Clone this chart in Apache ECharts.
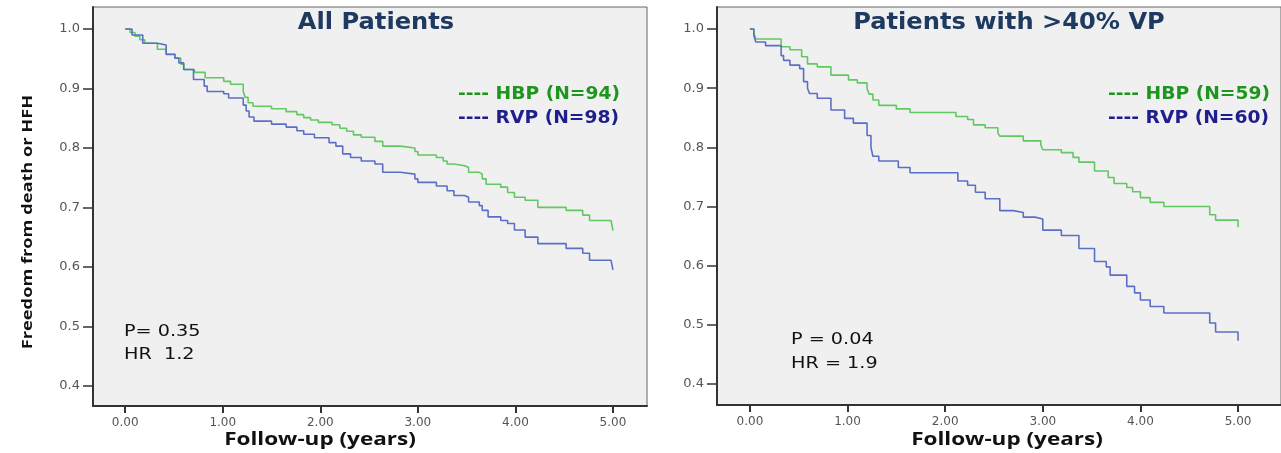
<!DOCTYPE html>
<html>
<head>
<meta charset="utf-8">
<script src="https://cdn.jsdelivr.net/npm/echarts@6/dist/echarts.min.js"></script>
<style>
  html, body { margin: 0; padding: 0; background: #fff; }
  #chart { width: 1281px; height: 453px; }
</style>
</head>
<body>
<div id="chart"></div>
<script>
// tick labels
const xTicks = [0, 1, 2, 3, 4, 5]
const yTicks = [0.4, 0.5, 0.6, 0.7, 0.8, 0.9, 1.0]

// All patients - HBP (N=94)
const allHbpT = [0, 0.05, 0.10, 0.15, 0.20, 0.33, 0.42, 0.51, 0.57, 0.60, 0.71, 0.82, 1.01, 1.08, 1.21, 1.23, 1.26, 1.31,
  1.50, 1.65, 1.76, 1.83, 1.90, 1.98, 2.12, 2.20, 2.27, 2.34, 2.42, 2.56, 2.64, 2.82, 2.97, 3.00, 3.19, 3.26, 3.30,
  3.37, 3.48, 3.52, 3.63, 3.66, 3.70, 3.85, 3.92, 3.99, 4.10, 4.23, 4.52, 4.69, 4.76, 4.98, 5.00]
const allHbpS = [1.0, 0.994, 0.988, 0.982, 0.976, 0.966, 0.958, 0.951, 0.941, 0.932, 0.927, 0.918, 0.912, 0.907, 0.895, 0.885, 0.876, 0.870,
  0.866, 0.861, 0.856, 0.851, 0.847, 0.843, 0.839, 0.833, 0.828, 0.822, 0.818, 0.811, 0.803, 0.800, 0.794, 0.788, 0.784, 0.778, 0.773,
  0.770, 0.767, 0.759, 0.756, 0.748, 0.739, 0.734, 0.725, 0.717, 0.712, 0.700, 0.695, 0.687, 0.678, 0.675, 0.661]

// All patients - RVP (N=98)
const allRvpT = [0, 0.07, 0.18, 0.33, 0.42, 0.51, 0.55, 0.60, 0.70, 0.81, 0.84, 1.01, 1.06, 1.21, 1.24, 1.27, 1.32,
  1.50, 1.65, 1.76, 1.83, 1.94, 2.09, 2.16, 2.23, 2.31, 2.42, 2.56, 2.64, 2.82, 2.97, 3.00, 3.19, 3.30, 3.37, 3.48,
  3.52, 3.63, 3.66, 3.72, 3.85, 3.92, 3.99, 4.10, 4.23, 4.52, 4.69, 4.76, 4.98, 5.00]
const allRvpS = [1.0, 0.990, 0.976, 0.973, 0.957, 0.951, 0.943, 0.932, 0.915, 0.904, 0.895, 0.891, 0.884, 0.872, 0.862, 0.852, 0.845,
  0.840, 0.835, 0.829, 0.823, 0.817, 0.809, 0.803, 0.790, 0.784, 0.778, 0.773, 0.759, 0.756, 0.748, 0.742, 0.736, 0.728, 0.720, 0.717,
  0.709, 0.703, 0.695, 0.684, 0.678, 0.673, 0.662, 0.650, 0.639, 0.631, 0.623, 0.611, 0.608, 0.595]

// >40% VP - HBP (N=59)
const vpHbpT = [0, 0.04, 0.06, 0.32, 0.41, 0.53, 0.59, 0.69, 0.83, 1.01, 1.10, 1.20, 1.22, 1.26, 1.32, 1.50, 1.64,
  2.11, 2.23, 2.29, 2.41, 2.54, 2.56, 2.80, 2.98, 3.00, 3.19, 3.31, 3.37, 3.53, 3.67, 3.73, 3.86, 3.92, 4.00, 4.10,
  4.24, 4.71, 4.77, 5.00]
const vpHbpS = [1.0, 0.994, 0.983, 0.970, 0.965, 0.953, 0.941, 0.936, 0.922, 0.914, 0.909, 0.900, 0.890, 0.880, 0.871, 0.865, 0.859,
  0.852, 0.847, 0.838, 0.833, 0.824, 0.819, 0.811, 0.804, 0.796, 0.791, 0.783, 0.775, 0.760, 0.749, 0.739, 0.732, 0.725, 0.715, 0.707,
  0.700, 0.686, 0.677, 0.665]

// >40% VP - RVP (N=60)
const vpRvpT = [0, 0.04, 0.06, 0.16, 0.32, 0.345, 0.41, 0.51, 0.55, 0.59, 0.61, 0.69, 0.83, 0.97, 1.06, 1.20, 1.24, 1.26,
  1.32, 1.52, 1.64, 2.13, 2.23, 2.31, 2.41, 2.56, 2.70, 2.80, 2.92, 3.00, 3.19, 3.37, 3.53, 3.65, 3.69, 3.86, 3.94,
  4.00, 4.10, 4.24, 4.71, 4.77, 5.00]
const vpRvpS = [1.0, 0.989, 0.978, 0.972, 0.955, 0.947, 0.939, 0.933, 0.911, 0.900, 0.891, 0.883, 0.863, 0.849, 0.841, 0.820, 0.800, 0.785,
  0.777, 0.766, 0.757, 0.743, 0.736, 0.724, 0.713, 0.693, 0.690, 0.682, 0.679, 0.660, 0.651, 0.629, 0.607, 0.598, 0.584, 0.565, 0.554,
  0.542, 0.531, 0.520, 0.503, 0.488, 0.473]

const green = '#62c862'
const blue = '#5b6fc6'

const zip = (t, s) => t.map((v, i) => [v, s[i]])

const makeX = (gridIndex, min, max) => ({
  type: 'value',
  gridIndex,
  min,
  max,
  splitLine: { show: false },
  axisLine: { show: true, onZero: false, lineStyle: { color: '#333', width: 2 } },
  axisTick: { show: true, customValues: xTicks, length: 7, lineStyle: { color: '#333', width: 2 } },
  axisLabel: {
    customValues: xTicks,
    margin: 11,
    color: '#555',
    fontSize: 12,
    fontFamily: 'DejaVu Sans',
    formatter: v => v.toFixed(2)
  }
})

const makeY = (gridIndex, min, max) => ({
  type: 'value',
  gridIndex,
  min,
  max,
  splitLine: { show: false },
  axisLine: { show: true, onZero: false, lineStyle: { color: '#333', width: 2 } },
  axisTick: { show: true, customValues: yTicks, length: 10, lineStyle: { color: '#333', width: 1.5 } },
  axisLabel: {
    customValues: yTicks,
    margin: 13,
    color: '#555',
    fontSize: 13,
    fontFamily: 'DejaVu Sans',
    formatter: v => v.toFixed(1)
  }
})

const makeLine = (name, data, color, idx) => ({
  name,
  type: 'line',
  step: 'end',
  xAxisIndex: idx,
  yAxisIndex: idx,
  data,
  symbol: 'none',
  lineStyle: { color, width: 1.6 },
  itemStyle: { color },
  animation: false
})

// the reference text is a bit stretched sideways, hence sx
const txt = (x, y, text, font, fill, align, sx, rotation) => ({
  type: 'text',
  x,
  y,
  scaleX: sx || 1,
  rotation: rotation || 0,
  style: {
    text,
    font,
    fill,
    textAlign: align || 'left',
    textVerticalAlign: 'middle'
  }
})

const chart = echarts.init(document.getElementById('chart'))

chart.setOption({
  backgroundColor: '#fff',
  animation: false,
  grid: [
    { left: 93, top: 7, width: 554, height: 399, show: true, backgroundColor: '#f0f0f0', borderColor: '#666', borderWidth: 1 },
    { left: 717, top: 7, width: 566, height: 398, show: true, backgroundColor: '#f0f0f0', borderColor: '#666', borderWidth: 1 }
  ],
  xAxis: [makeX(0, -0.33, 5.349), makeX(1, -0.337, 5.44)],
  yAxis: [makeY(0, 0.366, 1.037), makeY(1, 0.3645, 1.0372)],
  series: [
    makeLine('HBP (N=94)', zip(allHbpT, allHbpS), green, 0),
    makeLine('RVP (N=98)', zip(allRvpT, allRvpS), blue, 0),
    makeLine('HBP (N=59)', zip(vpHbpT, vpHbpS), green, 1),
    makeLine('RVP (N=60)', zip(vpRvpT, vpRvpS), blue, 1)
  ],
  graphic: [
    txt(376, 23, 'All Patients', 'bold 23px "DejaVu Sans"', '#1f3a60', 'center', 1.05),
    txt(1009, 23, 'Patients with >40% VP', 'bold 23px "DejaVu Sans"', '#1f3a60', 'center', 1.05),
    txt(458, 95, '---- HBP (N=94)', 'bold 17px "DejaVu Sans"', '#1e961e', 'left', 1.1),
    txt(458, 119, '---- RVP (N=98)', 'bold 17px "DejaVu Sans"', '#1e1e8c', 'left', 1.1),
    txt(1108, 95, '---- HBP (N=59)', 'bold 17px "DejaVu Sans"', '#1e961e', 'left', 1.1),
    txt(1108, 119, '---- RVP (N=60)', 'bold 17px "DejaVu Sans"', '#1e1e8c', 'left', 1.1),
    txt(124, 332, 'P= 0.35', '16px "DejaVu Sans"', '#111', 'left', 1.2),
    txt(124, 355, 'HR  1.2', '16px "DejaVu Sans"', '#111', 'left', 1.2),
    txt(791, 340, 'P = 0.04', '16px "DejaVu Sans"', '#111', 'left', 1.2),
    txt(791, 364, 'HR = 1.9', '16px "DejaVu Sans"', '#111', 'left', 1.2),
    txt(320, 440, 'Follow-up (years)', 'bold 18px "Open Sans"', '#111', 'center', 1.25),
    txt(1007, 440, 'Follow-up (years)', 'bold 18px "Open Sans"', '#111', 'center', 1.25),
    txt(28, 222, 'Freedom from death or HFH', 'bold 14px "Open Sans"', '#111', 'center', 1.3, Math.PI / 2)
  ]
})
</script>
</body>
</html>
